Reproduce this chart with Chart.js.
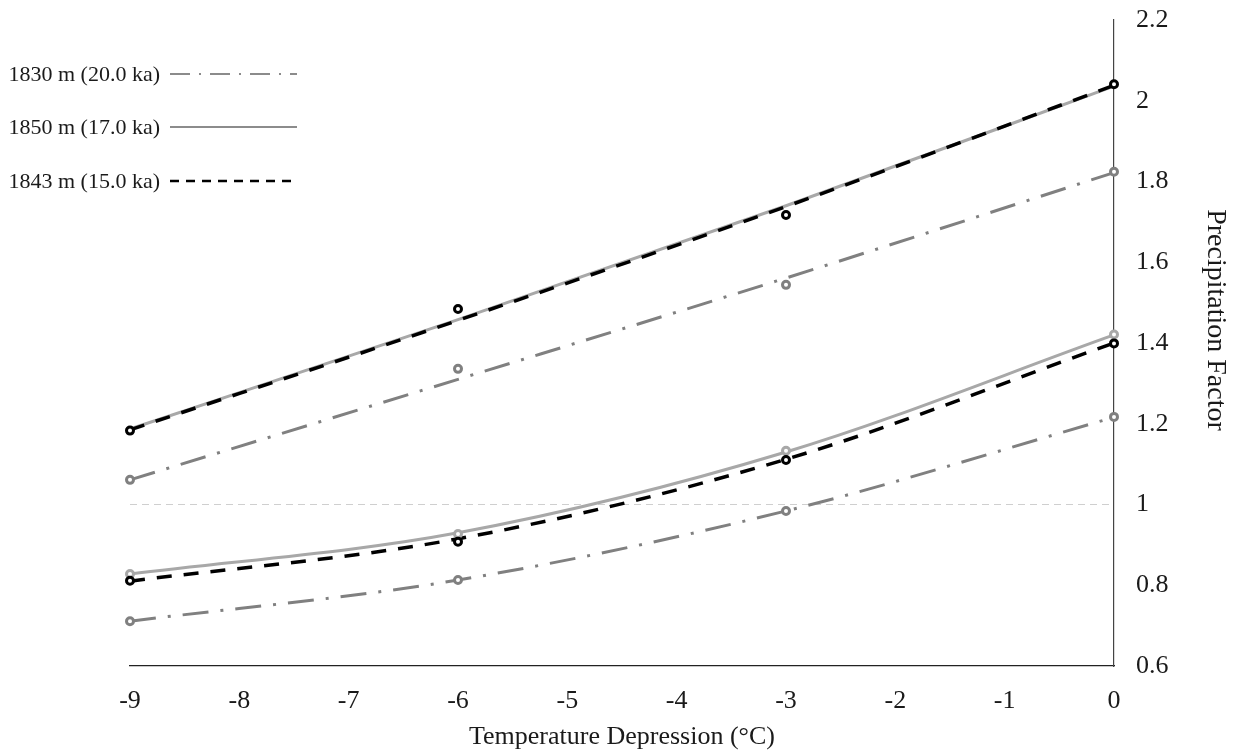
<!DOCTYPE html>
<html>
<head>
<meta charset="utf-8">
<script src="https://cdn.jsdelivr.net/npm/chart.js@4.4.1/dist/chart.umd.min.js"></script>
<style>
  html, body { margin: 0; padding: 0; background: #fff; }
  #wrap { width: 1235px; height: 754px; }
</style>
</head>
<body>
<div id="wrap"><canvas id="precipChart" width="1235" height="754"></canvas></div>
<script>
// Temperature depression (x) where the model was run
const tempDepression = [-9, -6, -3, 0];

// Modelled points
const pts15Upper = [1.183, 1.484, 1.717, 2.041];
const pts20Upper = [1.061, 1.336, 1.544, 1.824];
const pts17Lower = [0.828, 0.927, 1.133, 1.421];
const pts15Lower = [0.811, 0.908, 1.110, 1.399];
const pts20Lower = [0.711, 0.813, 0.984, 1.217];

// Trend lines at the same x values
const fit15Upper = [1.185, 1.456, 1.738, 2.038];
const fit17Upper = [1.187, 1.458, 1.740, 2.036];
const fit20Upper = [1.061, 1.310, 1.561, 1.822];
const fit17Lower = [0.828, 0.930, 1.130, 1.420];
const fit15Lower = [0.810, 0.915, 1.112, 1.400];
const fit20Lower = [0.711, 0.813, 0.984, 1.216];

const yTicks = [0.6, 0.8, 1, 1.2, 1.4, 1.6, 1.8, 2, 2.2];

const legendLabels = ['1830 m (20.0 ka)', '1850 m (17.0 ka)', '1843 m (15.0 ka)'];
const yTitle = 'Precipitation Factor';

const FONT = '"Liberation Serif", "Times New Roman", serif';
const BLACK = '#000000';
const GRAY = '#808080';
const LIGHT = '#a8a8a8';

const toXY = (ys) => ys.map((y, i) => ({ x: tempDepression[i], y: y }));

function pointSet(ys, color) {
  return {
    data: toXY(ys),
    showLine: false,
    pointRadius: 3.5,
    pointBorderWidth: 3,
    pointBorderColor: color,
    pointBackgroundColor: '#ffffff',
    clip: false
  };
}

function trendSet(ys, color, dash, width) {
  return {
    data: toXY(ys),
    borderColor: color,
    borderWidth: width,
    borderDash: dash,
    pointRadius: 0,
    cubicInterpolationMode: 'monotone',
    fill: false,
    clip: false
  };
}

// first dataset is drawn on top
const datasets = [
  pointSet(pts15Upper, BLACK),
  pointSet(pts15Lower, BLACK),
  pointSet(pts17Lower, LIGHT),
  pointSet(pts20Upper, GRAY),
  pointSet(pts20Lower, GRAY),
  trendSet(fit15Upper, BLACK, [15, 12], 3.5),
  trendSet(fit15Lower, BLACK, [15, 12], 3.5),
  trendSet(fit17Upper, LIGHT, [], 3),
  trendSet(fit17Lower, LIGHT, [], 3),
  trendSet(fit20Upper, GRAY, [26, 12, 3, 12], 3),
  trendSet(fit20Lower, GRAY, [26, 12, 3, 12], 3)
];

// legend in the top-left corner
const legendStyles = [
  { color: '#666666', width: 1.5, dash: [20, 9, 2, 9] },
  { color: '#666666', width: 1.5, dash: [] },
  { color: '#000000', width: 2.5, dash: [9, 7] }
];
const legendRows = [74, 127, 181];

const cornerLegend = {
  id: 'cornerLegend',
  afterDraw(chart) {
    const ctx = chart.ctx;
    ctx.save();
    ctx.font = '22px ' + FONT;
    ctx.textAlign = 'right';
    ctx.textBaseline = 'middle';
    legendLabels.forEach((label, i) => {
      const y = legendRows[i];
      const st = legendStyles[i];
      ctx.fillStyle = '#1a1a1a';
      ctx.fillText(label, 160, y + 1);
      ctx.beginPath();
      ctx.setLineDash(st.dash);
      ctx.strokeStyle = st.color;
      ctx.lineWidth = st.width;
      ctx.moveTo(170, y);
      ctx.lineTo(297, y);
      ctx.stroke();
    });
    ctx.restore();
  }
};

// right-hand axis title, sitting a little above the middle as in the original
const sideTitle = {
  id: 'sideTitle',
  afterDraw(chart) {
    const ctx = chart.ctx;
    ctx.save();
    ctx.translate(1215, 320);
    ctx.rotate(Math.PI / 2);
    ctx.font = '28px ' + FONT;
    ctx.fillStyle = '#1a1a1a';
    ctx.textAlign = 'center';
    ctx.textBaseline = 'middle';
    ctx.fillText(yTitle, 0, 0);
    ctx.restore();
  }
};

const ctx = document.getElementById('precipChart').getContext('2d');
new Chart(ctx, {
  type: 'line',
  data: { datasets: datasets },
  options: {
    responsive: false,
    animation: false,
    layout: { padding: { left: 130, top: 20, right: 0, bottom: 0 } },
    plugins: {
      legend: { display: false },
      tooltip: { enabled: false }
    },
    scales: {
      x: {
        type: 'linear',
        min: -9,
        max: 0,
        grid: { display: false, drawTicks: false },
        border: { display: true, color: '#222222', width: 1.2 },
        ticks: {
          stepSize: 1,
          padding: 20,
          color: '#1a1a1a',
          font: { family: FONT, size: 26 },
          callback: (v) => String(v)
        },
        title: {
          display: true,
          text: 'Temperature Depression (°C)',
          color: '#1a1a1a',
          font: { family: FONT, size: 26 },
          padding: { top: 0, bottom: 1 }
        },
        afterFit: (scale) => { scale.height = 88; }
      },
      y: {
        position: 'right',
        min: 0.6,
        max: 2.2,
        afterBuildTicks: (scale) => { scale.ticks = yTicks.map(v => ({ value: v })); },
        grid: {
          drawTicks: false,
          lineWidth: 1,
          color: (c) => (c.tick && Math.abs(c.tick.value - 1) < 1e-6) ? '#cfcfcf' : 'rgba(0,0,0,0)'
        },
        border: { display: true, color: '#444444', width: 1.2, dash: [7, 5] },
        ticks: {
          padding: 22,
          color: '#1a1a1a',
          font: { family: FONT, size: 26 },
          callback: (v) => String(Math.round(v * 10) / 10)
        },
        title: { display: false },
        afterFit: (scale) => {
          scale.width = 121;
          scale.paddingTop = 0;
          scale.paddingBottom = 0;
        }
      }
    }
  },
  plugins: [cornerLegend, sideTitle]
});
</script>
</body>
</html>
